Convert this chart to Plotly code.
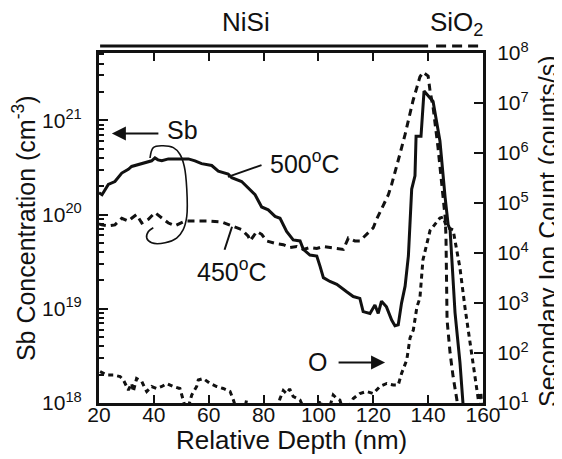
import plotly.graph_objects as go
import numpy as np

# ---------------- data ----------------
# Sb concentration, 500 C anneal (depth nm, log10 cm^-3)
depth_sb500 = [20.0, 21.1, 23.4, 25.8, 28.3, 30.7, 31.9, 35.6, 39.2, 40.4, 41.5, 42.9, 45.3,
               48.9, 52.6, 55.0, 57.4, 61.1, 63.5, 67.1, 68.4, 72.0, 74.4, 76.9, 79.3, 81.7,
               84.2, 86.0, 88.4, 90.8, 93.3, 94.5, 96.9, 99.4, 100.6, 101.8, 104.2, 106.7,
               110.3, 112.7, 115.1, 116.3, 118.8, 120.6, 121.8, 123.0, 124.8, 126.7, 127.9,
               129.1, 130.3, 131.6, 132.8, 133.4, 134.0, 135.2, 135.6, 137.4, 138.5, 141.8,
               144.3, 146.2, 147.3, 148.0, 149.8, 151.6, 152.7, 153.2]
log_sb500 = [20.23, 20.21, 20.32, 20.35, 20.44, 20.48, 20.51, 20.54, 20.57, 20.60, 20.58, 20.57,
             20.59, 20.59, 20.59, 20.57, 20.54, 20.52, 20.46, 20.43, 20.39, 20.35, 20.28, 20.21,
             20.08, 20.05, 19.98, 19.96, 19.82, 19.73, 19.72, 19.63, 19.57, 19.56, 19.45, 19.33,
             19.29, 19.26, 19.18, 19.13, 19.11, 18.97, 18.95, 19.04, 18.95, 19.08, 19.02, 18.88,
             18.82, 18.83, 19.06, 19.24, 19.56, 19.91, 20.27, 20.41, 20.83, 20.83, 21.31, 21.20,
             20.78, 20.18, 19.89, 19.84, 18.96, 18.43, 18.01, 17.80]

# Sb concentration, 450 C anneal
depth_sb450 = [20.0, 21.0, 23.4, 25.8, 28.3, 30.7, 31.9, 33.7, 35.6, 38.0, 40.4, 42.9, 45.3,
               47.7, 51.4, 55.0, 59.9, 64.7, 68.4, 72.0, 74.4, 75.1, 77.5, 79.3, 81.1, 84.8,
               87.2, 89.6, 92.1, 94.5, 96.9, 99.4, 101.8, 104.2, 106.7, 109.1, 110.9, 113.3,
               115.1, 117.6, 120.0, 121.2, 123.6, 125.5, 126.7, 127.9, 129.7, 131.6, 133.4,
               134.5, 135.9, 137.0, 138.1, 140.0, 140.7, 141.8, 143.6, 145.1, 146.2, 146.5,
               146.9, 148.0, 149.1, 150.5, 151.0]
log_sb450 = [19.90, 19.89, 19.88, 19.89, 19.96, 19.93, 19.96, 20.00, 19.91, 19.95, 20.02, 19.96,
             19.91, 19.88, 19.93, 19.93, 19.93, 19.92, 19.88, 19.84, 19.77, 19.72, 19.82, 19.79,
             19.72, 19.69, 19.68, 19.65, 19.66, 19.63, 19.65, 19.64, 19.66, 19.65, 19.64, 19.63,
             19.75, 19.72, 19.72, 19.79, 19.86, 19.95, 20.09, 20.21, 20.32, 20.44, 20.64, 20.85,
             21.09, 21.21, 21.35, 21.46, 21.51, 21.47, 21.31, 21.14, 20.71, 20.29, 19.97, 19.77,
             18.88, 18.53, 18.28, 18.03, 17.80]

# Oxygen secondary ion count (depth nm, log10 counts/s)
depth_o = [20.4, 22.8, 25.2, 27.7, 28.9, 30.7, 31.9, 32.5, 33.7, 35.6, 36.8, 37.4, 39.2, 41.0,
           42.9, 44.7, 47.1, 49.5, 50.7, 52.0, 53.8, 55.6, 56.2, 58.0, 60.5, 62.9, 65.3, 67.8,
           69.0, 70.5, 73.0, 73.8, 74.5, 80.0, 85.0, 86.0, 87.2, 88.4, 89.5, 90.8, 93.3, 95.0,
           99.5, 100.6, 101.5, 104.0, 105.4, 106.5, 107.8, 109.0, 111.5, 112.7, 115.1, 117.6,
           120.0, 122.4, 124.9, 127.3, 129.1, 130.3, 132.2, 133.4, 134.6, 135.9, 137.0, 138.1,
           140.7, 141.8, 144.3, 145.5, 146.7, 149.1, 151.6, 153.4, 155.3, 157.1, 158.2, 158.6,
           159.2, 159.6]
log_o = [1.63, 1.56, 1.56, 1.53, 1.46, 1.26, 1.39, 1.23, 1.49, 1.43, 1.29, 1.23, 1.33, 1.29,
         1.33, 1.39, 1.33, 1.29, 1.06, 0.80, 1.16, 1.33, 1.46, 1.49, 1.39, 1.33, 1.29, 1.23,
         1.06, 0.80, 0.85, 1.06, 0.85, 0.80, 0.90, 1.09, 1.25, 1.19, 1.28, 1.13, 1.06, 0.85,
         0.90, 1.06, 0.85, 0.90, 1.16, 1.10, 1.06, 0.85, 0.95, 1.09, 1.19, 1.23,
         1.19, 1.33, 1.39, 1.36, 1.36, 1.59, 1.86, 2.30, 2.46, 2.92, 3.10, 3.86,
         4.45, 4.52, 4.70, 4.72, 4.52, 4.46, 3.70, 2.92, 2.20, 1.46, 1.12, 0.95,
         1.22, 0.90]

# hand-drawn loop grouping the two Sb curves (depth nm, log10 cm^-3)
loop_depth = [38.6, 39.8, 42.9, 47.1, 49.5, 51.1, 52.0, 52.0, 50.7, 48.3, 44.1, 39.2, 37.4, 38.0, 39.8]
loop_log = [20.60, 20.71, 20.73, 20.71, 20.64, 20.51, 20.27, 19.98, 19.84, 19.75, 19.70, 19.70,
            19.75, 19.82, 19.86]

x_ticks = [20, 40, 60, 80, 100, 120, 140, 160]
left_decades = [18, 19, 20, 21]
right_decades = [1, 2, 3, 4, 5, 6, 7, 8]

FONT = "Liberation Sans, Arial, Helvetica, sans-serif"
INK = "#111111"

fig = go.Figure()

fig.add_trace(go.Scatter(x=depth_sb500, y=np.power(10.0, log_sb500), mode="lines",
                         line=dict(color=INK, width=3), yaxis="y", showlegend=False))
fig.add_trace(go.Scatter(x=depth_sb450, y=np.power(10.0, log_sb450), mode="lines",
                         line=dict(color=INK, width=3, dash="7px,5px"), yaxis="y", showlegend=False))
fig.add_trace(go.Scatter(x=depth_o, y=np.power(10.0, log_o), mode="lines",
                         line=dict(color=INK, width=3, dash="5px,4px"), yaxis="y2", showlegend=False))
fig.add_trace(go.Scatter(x=loop_depth, y=np.power(10.0, loop_log), mode="lines",
                         line=dict(color=INK, width=1.6, shape="spline"), yaxis="y", showlegend=False))

left_minor = [m * 10.0 ** d for d in left_decades for m in range(2, 10)]

# the page body adds an 8px offset, so the figure is sized to the visible area
fig.update_layout(
    width=554, height=451,
    margin=dict(l=91, r=79, t=45, b=56, autoexpand=False),
    paper_bgcolor="white", plot_bgcolor="white",
    font=dict(family=FONT, color=INK, size=21),
    xaxis=dict(range=[20, 160], tickmode="array", tickvals=x_ticks,
               ticktext=[str(v) for v in x_ticks],
               ticks="inside", ticklen=8, tickwidth=2, tickcolor=INK,
               showline=True, linewidth=3, linecolor=INK, mirror="ticks",
               showgrid=False, zeroline=False, tickfont=dict(size=21),
               ticklabelstandoff=-9),
    yaxis=dict(type="log", range=[18, 21.714], tickmode="array",
               tickvals=[10.0 ** d for d in left_decades],
               ticktext=["10<sup>%d</sup>" % d for d in left_decades],
               ticks="inside", ticklen=9, tickwidth=2, tickcolor=INK,
               minor=dict(ticks="inside", ticklen=5, tickwidth=1.5, tickcolor=INK,
                          tickmode="array", tickvals=left_minor, showgrid=False),
               showline=True, linewidth=3, linecolor=INK,
               showgrid=False, zeroline=False, tickfont=dict(size=21),
               ticklabelstandoff=10),
    yaxis2=dict(type="log", range=[1, 8], overlaying="y", side="right", tickmode="array",
                tickvals=[10.0 ** d for d in right_decades],
                ticktext=["10<sup>%d</sup>" % d for d in right_decades],
                ticks="inside", ticklen=9, tickwidth=2, tickcolor=INK,
                showline=True, linewidth=3, linecolor=INK,
                showgrid=False, zeroline=False, tickfont=dict(size=21),
                ticklabelstandoff=7),
)

ann = []
# axis titles
ann.append(dict(text="Relative Depth (nm)", xref="paper", yref="paper", x=0.5, y=-0.106,
                xanchor="center", yanchor="middle", showarrow=False, font=dict(size=26)))
ann.append(dict(text="Sb Concentration (cm<sup>-3</sup>)", xref="paper", yref="paper",
                x=-0.195, y=0.5, textangle=-90, xanchor="center", yanchor="middle",
                showarrow=False, font=dict(size=25)))
ann.append(dict(text="Secondary Ion Count (counts/s)", xref="paper", yref="paper",
                x=1.168, y=0.49, textangle=-90, xanchor="center", yanchor="middle",
                showarrow=False, font=dict(size=25)))
# layer labels on top
ann.append(dict(text="NiSi", xref="x", yref="paper", x=73.6, y=1.089, xanchor="center",
                yanchor="middle", showarrow=False, font=dict(size=26)))
ann.append(dict(text="SiO<sub>2</sub>", xref="x", yref="paper", x=150.5, y=1.083,
                xanchor="center", yanchor="middle", showarrow=False, font=dict(size=26)))
# curve labels
ann.append(dict(text="Sb", xref="x", yref="y", x=50.6, y=20.90, xanchor="center",
                yanchor="middle", showarrow=False, font=dict(size=25)))
ann.append(dict(text="", xref="x", yref="y", x=24.7, y=20.86, ax=42.2, ay=20.86,
                axref="x", ayref="y", showarrow=True, arrowhead=2, arrowsize=1.4,
                arrowwidth=2, arrowcolor=INK))
ann.append(dict(text="500<sup>o</sup>C", xref="x", yref="y", x=81.6, y=20.56, xanchor="left",
                yanchor="middle", showarrow=False, font=dict(size=25)))
ann.append(dict(text="", xref="x", yref="y", x=67.0, y=20.40, ax=79.8, ay=20.53,
                axref="x", ayref="y", showarrow=True, arrowhead=0, arrowwidth=2,
                arrowcolor=INK))
ann.append(dict(text="450<sup>o</sup>C", xref="x", yref="y", x=55.0, y=19.41, xanchor="left",
                yanchor="middle", showarrow=False, font=dict(size=25)))
ann.append(dict(text="", xref="x", yref="y", x=68.5, y=19.87, ax=65.6, ay=19.61,
                axref="x", ayref="y", showarrow=True, arrowhead=0, arrowwidth=2,
                arrowcolor=INK))
ann.append(dict(text="O", xref="x", yref="y", x=99.8, y=18.43, xanchor="center",
                yanchor="middle", showarrow=False, font=dict(size=25)))
ann.append(dict(text="", xref="x", yref="y", x=124.3, y=18.43, ax=106.8, ay=18.43,
                axref="x", ayref="y", showarrow=True, arrowhead=2, arrowsize=1.4,
                arrowwidth=2, arrowcolor=INK))
fig.update_layout(annotations=ann)

# layer bars above the frame
fig.add_shape(type="line", xref="x", yref="paper", x0=20.4, x1=140.0, y0=1.02, y1=1.02,
              line=dict(color=INK, width=3))
fig.add_shape(type="line", xref="x", yref="paper", x0=142.9, x1=160.4, y0=1.02, y1=1.02,
              line=dict(color=INK, width=3, dash="10px,6px"))

fig.write_html("out.html")
